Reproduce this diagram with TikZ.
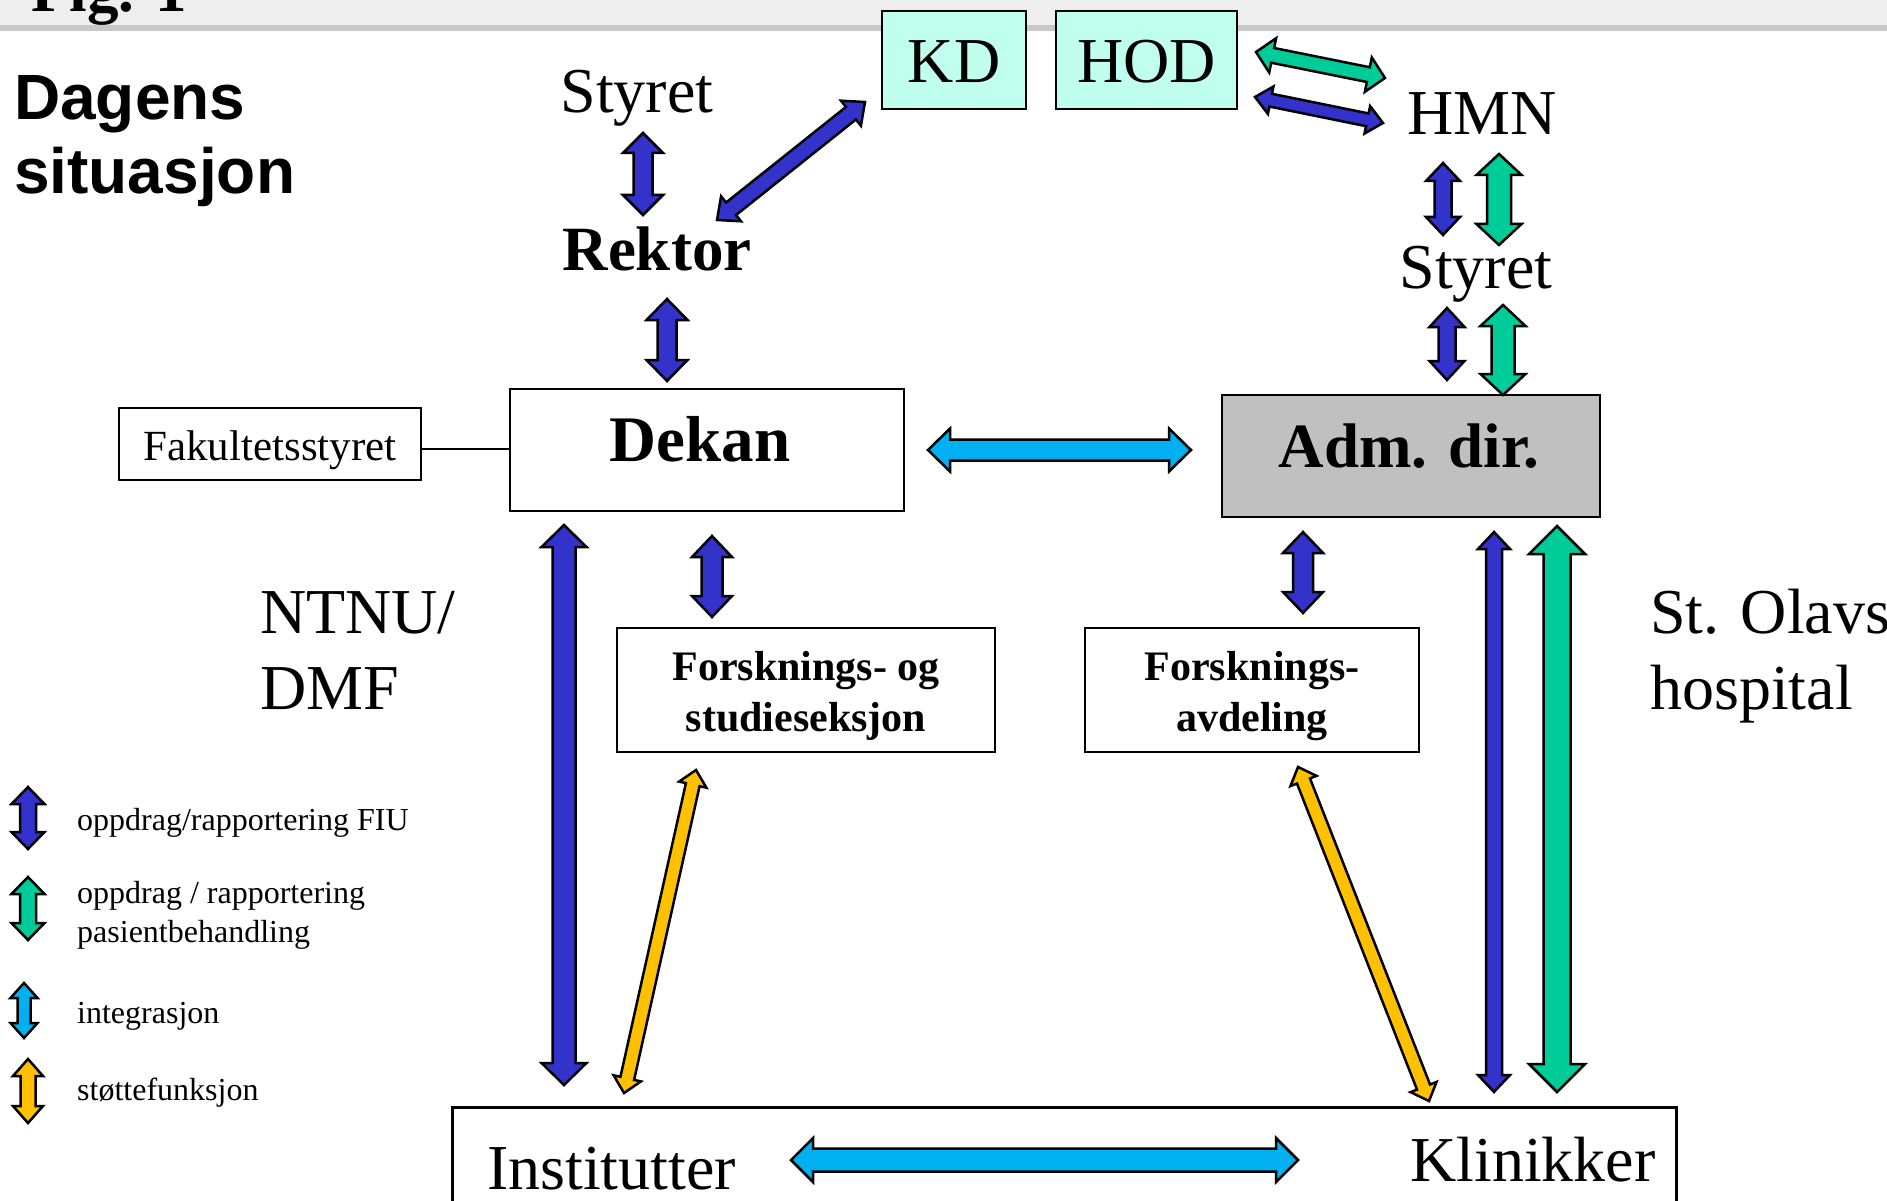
\documentclass[tikz,border=0pt]{standalone}
\usepackage{fontspec}
\setmainfont{Liberation Serif}
\newfontfamily\arialf{Liberation Sans}
\usetikzlibrary{calc}
\definecolor{fblue}{RGB}{51,51,204}
\definecolor{fgreen}{RGB}{0,204,153}
\definecolor{fcyan}{RGB}{0,176,240}
\definecolor{fyellow}{RGB}{255,192,0}
\definecolor{mint}{RGB}{192,255,238}
\definecolor{admgray}{RGB}{192,192,192}
\definecolor{bandgray}{RGB}{238,238,238}
\definecolor{linegray}{RGB}{200,200,200}
\newcommand\fsz[1]{\fontsize{#1}{#1}\selectfont}
% #1 colour, #2 from, #3 to, #4 shaft half width, #5 head half width, #6 head length
\newcommand\blockarrow[6]{%
  \coordinate (bxA) at ($(#2)!#6!(#3)$);
  \coordinate (bxB) at ($(#3)!#6!(#2)$);
  \draw[barrow,fill=#1] (#2) -- ($(bxA)!#5!90:(#3)$) -- ($(bxA)!#4!90:(#3)$)
    -- ($(bxB)!#4!-90:(#2)$) -- ($(bxB)!#5!-90:(#2)$) -- (#3)
    -- ($(bxB)!#5!90:(#2)$) -- ($(bxB)!#4!90:(#2)$)
    -- ($(bxA)!#4!-90:(#3)$) -- ($(bxA)!#5!-90:(#3)$) -- cycle;}
\begin{document}
\begin{tikzpicture}[x=1pt,y=-1pt,
  boxline/.style={draw=black,line width=2.5pt,inner sep=0pt},
  barrow/.style={draw=black,line width=2.5pt,line join=miter},
  lbl/.style={inner sep=0pt,anchor=base},
  big/.style={lbl,font=\fsz{64}},
  bigb/.style={lbl,font=\fsz{63}\bfseries},
  midb/.style={lbl,font=\fsz{42}\bfseries},
  leg/.style={lbl,anchor=base west,font=\fsz{32}}]
\useasboundingbox (0,0) rectangle (1887,1201);
\clip (0,0) rectangle (1887,1201);
% header band
\fill[bandgray] (0,0) rectangle (1887,25);
\fill[linegray] (0,25) rectangle (1887,31);
\node[lbl,anchor=base west,font=\fsz{63}\bfseries] (fig) at (31,12) {Fig. 1};
% title
\node[lbl,anchor=base west,font=\arialf\fsz{64}\bfseries] (t1) at (14,120) {Dagens};
\node[lbl,anchor=base west,font=\arialf\fsz{64}\bfseries] (t2) at (14,194) {situasjon};
% boxes
\node[boxline,fill=mint,minimum width=144,minimum height=98] (kd) at (954,60) {};
\node[big] at (954,83) {KD};
\node[boxline,fill=mint,minimum width=181,minimum height=98] (hod) at (1146.5,60) {};
\node[big] at (1146.5,83) {HOD};
\node[boxline,line width=2pt,minimum width=302,minimum height=72] (fak) at (270,444) {};
\node[lbl,font=\fsz{43}] at (270,460) {Fakultetsstyret};
\node[boxline,minimum width=394,minimum height=122] (dekan) at (707,450) {};
\node[bigb,font=\fsz{65}\bfseries] at (700,461) {Dekan};
\node[boxline,fill=admgray,minimum width=378,minimum height=122] (adm) at (1411,456) {};
\node[bigb] at (1409,467) {Adm. dir.};
\node[boxline,line width=2pt,minimum width=378,minimum height=124] (fos) at (806,690) {};
\node[midb] at (806,680) {Forsknings- og};
\node[midb] at (806,731) {studieseksjon};
\node[boxline,line width=2pt,minimum width=334,minimum height=124] (fa) at (1252,690) {};
\node[midb] at (1252,680) {Forsknings-};
\node[midb] at (1252,731) {avdeling};
\node[boxline,minimum width=1224,minimum height=160,anchor=north west] (bottom) at (451,1106) {};
\node[big,anchor=base west] (inst) at (487,1189) {Institutter};
\node[big,anchor=base west] (klin) at (1410,1181) {Klinikker};
% plain labels
\node[big] (styretL) at (637,113) {Styret};
\node[bigb] (rektor) at (657,270) {Rektor};
\node[big] (hmn) at (1482,135) {HMN};
\node[big] (styretR) at (1476,288) {Styret};
\node[big,anchor=base west] (ntnu) at (260,633) {NTNU/};
\node[big,anchor=base west] (dmf) at (260,709) {DMF};
\node[big,anchor=base west] (olav) at (1650,633) {St. Olavs};
\node[big,anchor=base west] (hosp) at (1650,709) {hospital};
% connector
\draw[line width=2pt] ([yshift=-5pt]fak.east) -- ([yshift=-5pt]fak.east -| dekan.west);
% arrow end points
\coordinate (sr1) at (643,133); \coordinate (sr2) at (643,215);
\coordinate (rd1) at (667,299); \coordinate (rd2) at (667,381);
\coordinate (kr1) at (865,102); \coordinate (kr2) at (717,220);
\coordinate (hg1) at (1256,52); \coordinate (hg2) at (1385,78);
\coordinate (hb1) at (1255,97); \coordinate (hb2) at (1383,123);
\coordinate (ms1) at (1443,163); \coordinate (ms2) at (1443,235);
\coordinate (mg1) at (1499,154); \coordinate (mg2) at (1499,245);
\coordinate (sa1) at (1447,308); \coordinate (sa2) at (1447,380);
\coordinate (sg1) at (1503,305); \coordinate (sg2) at (1503,395);
\coordinate (da1) at (928,450); \coordinate (da2) at (1191,450);
\coordinate (di1) at (564,525); \coordinate (di2) at (564,1085);
\coordinate (df1) at (712,536); \coordinate (df2) at (712,617);
\coordinate (af1) at (1303,532); \coordinate (af2) at (1303,613);
\coordinate (ak1) at (1494,532); \coordinate (ak2) at (1494,1092);
\coordinate (ag1) at (1557,526); \coordinate (ag2) at (1557,1092);
\coordinate (fi1) at (696,770); \coordinate (fi2) at (624,1093);
\coordinate (fk1) at (1298,767); \coordinate (fk2) at (1429,1101);
\coordinate (ik1) at (791,1160); \coordinate (ik2) at (1298,1160);
% arrows
\blockarrow{fblue}{sr1}{sr2}{9.5pt}{20pt}{20pt}
\blockarrow{fblue}{rd1}{rd2}{9.5pt}{20.5pt}{21pt}
\blockarrow{fblue}{kr1}{kr2}{8pt}{16pt}{18pt}
\blockarrow{fgreen}{hg1}{hg2}{7.5pt}{17.5pt}{17pt}
\blockarrow{fblue}{hb1}{hb2}{6.5pt}{14pt}{16pt}
\blockarrow{fblue}{ms1}{ms2}{8.5pt}{17pt}{18pt}
\blockarrow{fgreen}{mg1}{mg2}{12pt}{22.5pt}{21pt}
\blockarrow{fblue}{sa1}{sa2}{8.5pt}{17.5pt}{19pt}
\blockarrow{fgreen}{sg1}{sg2}{11.5pt}{22.5pt}{21pt}
\blockarrow{fcyan}{da1}{da2}{10.5pt}{21.5pt}{22pt}
\blockarrow{fblue}{di1}{di2}{11.5pt}{22.5pt}{22pt}
\blockarrow{fblue}{df1}{df2}{10.5pt}{20pt}{21pt}
\blockarrow{fblue}{af1}{af2}{10pt}{20pt}{21pt}
\blockarrow{fblue}{ak1}{ak2}{8pt}{16pt}{17pt}
\blockarrow{fgreen}{ag1}{ag2}{13.5pt}{28pt}{28pt}
\blockarrow{fyellow}{fi1}{fi2}{7pt}{14pt}{15pt}
\blockarrow{fyellow}{fk1}{fk2}{7pt}{14pt}{15pt}
\blockarrow{fcyan}{ik1}{ik2}{11.5pt}{22pt}{22pt}
% legend
\coordinate (l1a) at (28,787); \coordinate (l1b) at (28,849);
\coordinate (l2a) at (28,877); \coordinate (l2b) at (28,940);
\coordinate (l3a) at (24,983); \coordinate (l3b) at (24,1038);
\coordinate (l4a) at (28,1059); \coordinate (l4b) at (28,1123);
\blockarrow{fblue}{l1a}{l1b}{8pt}{16.5pt}{17pt}
\blockarrow{fgreen}{l2a}{l2b}{8pt}{16.5pt}{17pt}
\blockarrow{fcyan}{l3a}{l3b}{6.5pt}{13.5pt}{15pt}
\blockarrow{fyellow}{l4a}{l4b}{7.5pt}{15pt}{17pt}
\node[leg] (lg1) at (77,830) {oppdrag/rapportering FIU};
\node[leg] (lg2) at (77,903) {oppdrag / rapportering};
\node[leg] (lg3) at (77,942) {pasientbehandling};
\node[leg] (lg4) at (77,1023) {integrasjon};
\node[leg] (lg5) at (77,1100) {støttefunksjon};
\end{tikzpicture}
\end{document}
